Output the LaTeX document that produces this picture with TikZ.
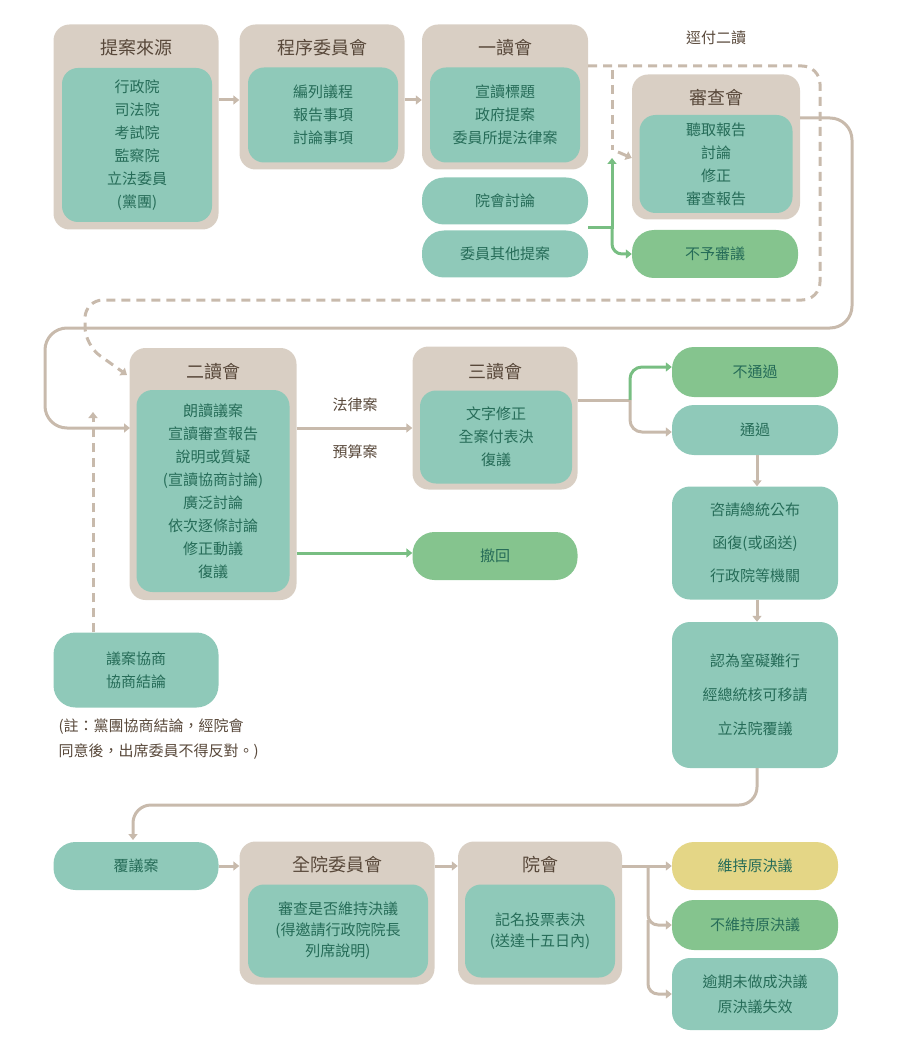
\documentclass[tikz,border=0pt]{standalone}
\usepackage{fontspec}
\setmainfont{Noto Sans CJK TC}
\usetikzlibrary{arrows.meta}
\definecolor{tanbox}{RGB}{217,207,196}
\definecolor{tanline}{RGB}{200,186,172}
\definecolor{tealbox}{RGB}{143,201,185}
\definecolor{greenbox}{RGB}{133,196,142}
\definecolor{yellowbox}{RGB}{228,214,134}
\definecolor{greenline}{RGB}{120,190,130}
\definecolor{tealtext}{RGB}{38,108,88}
\definecolor{titletext}{RGB}{88,72,58}
\tikzset{
  outer/.style={fill=tanbox, rounded corners=16pt, inner sep=0pt},
  inner/.style={fill=tealbox, rounded corners=16pt, text=tealtext, align=center, inner sep=0pt,
    font=\fontsize{15}{23}\selectfont},
  pill/.style={inner, rounded corners=22pt},
  title/.style={text=titletext, font=\fontsize{18}{22}\selectfont},
  flow/.style={draw=tanline, line width=3pt, -{Triangle[width=9pt,length=6pt]}},
  gflow/.style={draw=greenline, line width=3pt, -{Triangle[width=9pt,length=6pt]}},
  dflow/.style={flow, dash pattern=on 9pt off 6pt}
}
\begin{document}
\begin{tikzpicture}[x=1pt,y=-1pt]
\useasboundingbox (0,0) rectangle (908,1048);
% row 1
\node[outer, minimum width=165, minimum height=205] (src) at (136,127) {};
\node[title] (srcT) at (136,48) {提案來源};
\node[inner, minimum width=150, minimum height=154] (srcI) at (137,145) {行政院\\司法院\\考試院\\監察院\\立法委員\\(黨團)};
\node[outer, minimum width=165, minimum height=145] (proc) at (322,97) {};
\node[title] (procT) at (322,48) {程序委員會};
\node[inner, minimum width=150, minimum height=95] (procI) at (323,115) {編列議程\\報告事項\\討論事項};
\node[outer, minimum width=166, minimum height=145] (r1) at (505,97) {};
\node[title] (r1T) at (505,48) {一讀會};
\node[inner, minimum width=150, minimum height=95] (r1I) at (505,115) {宣讀標題\\政府提案\\委員所提法律案};
\node[pill, minimum width=166, minimum height=47] (plen) at (505,201) {院會討論};
\node[pill, minimum width=166, minimum height=47] (other) at (505,254) {委員其他提案};
\node[outer, minimum width=168, minimum height=145] (rev) at (716,147) {};
\node[title] (revT) at (716,98) {審查會};
\node[inner, minimum width=153, minimum height=98] (revI) at (716,164) {聽取報告\\討論\\修正\\審查報告};
\node[pill, fill=greenbox, minimum width=166, minimum height=48] (noRev) at (715,254) {不予審議};
\node[text=titletext, font=\fontsize{15}{18}\selectfont] (direct) at (716,38) {逕付二讀};
\draw[flow] (src.east |- 0,100) -- (proc.west |- 0,100);
\draw[flow] (proc.east |- 0,100) -- (r1.west |- 0,100);
% green branch
\coordinate (gj) at (612,228);
\draw[gflow] (588,228) -- (gj) -- (612,158);
\draw[gflow, rounded corners=10pt] (gj) -- (612,254) -- (noRev.west);
% dashed direct path
\draw[dflow, rounded corners=18pt] (r1.east |- 0,66) -- (820,66) -- (820,300) -- (85,300) -- (85,345) -- (127,375);
\draw[dflow, -] (612,70) -- (612,150);
\draw[flow] (618,152) -- (rev.west |- 0,158);
% solid return path
\draw[flow, rounded corners=22pt] (rev.east |- 0,118) -- (852,118) -- (852,328) -- (45,328) -- (45,428) -- (130,428);
% row 2
\node[outer, minimum width=167, minimum height=252] (r2) at (213,474) {};
\node[title] (r2T) at (213,372) {二讀會};
\node[inner, minimum width=153, minimum height=202] (r2I) at (213,491) {朗讀議案\\宣讀審查報告\\說明或質疑\\(宣讀協商討論)\\廣泛討論\\依次逐條討論\\修正動議\\復議};
\node[outer, minimum width=165, minimum height=143] (r3) at (495,418) {};
\node[title] (r3T) at (495,372) {三讀會};
\node[inner, minimum width=152, minimum height=93] (r3I) at (496,437) {文字修正\\全案付表決\\復議};
\node[pill, fill=greenbox, minimum width=165, minimum height=48] (wd) at (495,556) {撤回};
\node[text=titletext, font=\fontsize{15}{18}\selectfont] (law) at (355,405) {法律案};
\node[text=titletext, font=\fontsize{15}{18}\selectfont] (budget) at (355,452) {預算案};
\draw[flow] (r2.east |- 0,428) -- (r3.west |- 0,428);
\draw[gflow] (r2.east |- 0,553) -- (wd.west |- 0,553);
\node[pill, minimum width=165, minimum height=75] (nego) at (136,670) {議案協商\\協商結論};
\draw[dflow] (nego.north -| 93,0) -- (93,412);
\node[text=titletext, align=left, anchor=north west, font=\fontsize{15}{25}\selectfont] (note) at (55,715) {(註：黨團協商結論，經院會\\同意後，出席委員不得反對。)};
\node[pill, fill=greenbox, minimum width=166, minimum height=50] (fail) at (755,372) {不通過};
\node[pill, minimum width=166, minimum height=50] (pass) at (755,430) {通過};
\coordinate (r3j) at (630,400);
\draw[draw=tanline, line width=3pt] (r3.east |- 0,400) -- (r3j);
\draw[gflow, rounded corners=12pt] (r3j) -- (630,367) -- (fail.west |- 0,367);
\draw[flow, rounded corners=12pt] (r3j) -- (630,432) -- (pass.west |- 0,432);
\node[inner, rounded corners=18pt, minimum width=166, minimum height=113, font=\fontsize{15}{33}\selectfont] (prom) at (755,543) {咨請總統公布\\函復(或函送)\\行政院等機關};
\node[inner, rounded corners=18pt, minimum width=166, minimum height=146, font=\fontsize{15}{34}\selectfont] (veto) at (755,695) {認為窒礙難行\\經總統核可移請\\立法院覆議};
\draw[flow] (pass.south -| 757,0) -- (prom.north -| 757,0);
\draw[flow] (prom.south -| 757,0) -- (veto.north -| 757,0);
% row 3
\draw[flow, rounded corners=18pt] (veto.south -| 757,0) -- (757,805) -- (133,805) -- (133,840);
\node[pill, minimum width=165, minimum height=48] (recon) at (136,866) {覆議案};
\node[outer, minimum width=195, minimum height=143] (whole) at (337,913) {};
\node[title] (wholeT) at (337,865) {全院委員會};
\node[inner, minimum width=180, minimum height=93, font=\fontsize{15}{21}\selectfont] (wholeI) at (338,931) {審查是否維持決議\\(得邀請行政院院長\\列席說明)};
\node[outer, minimum width=164, minimum height=143] (ple2) at (540,913) {};
\node[title] (ple2T) at (540,865) {院會};
\node[inner, minimum width=150, minimum height=93, font=\fontsize{15}{21}\selectfont] (ple2I) at (540,931) {記名投票表決\\(送達十五日內)};
\node[pill, fill=yellowbox, minimum width=166, minimum height=48] (keep) at (755,866) {維持原決議};
\node[pill, fill=greenbox, minimum width=166, minimum height=50] (nokeep) at (755,925) {不維持原決議};
\node[inner, rounded corners=18pt, minimum width=166, minimum height=72, font=\fontsize{15}{25}\selectfont] (lapse) at (755,994) {逾期未做成決議\\原決議失效};
\draw[flow] (recon.east) -- (whole.west |- 0,866);
\draw[flow] (whole.east |- 0,866) -- (ple2.west |- 0,866);
\draw[flow] (ple2.east |- 0,866) -- (keep.west);
\draw[flow, rounded corners=10pt] (648,866) -- (648,925) -- (nokeep.west);
\draw[flow, rounded corners=10pt] (648,920) -- (648,994) -- (lapse.west);
\end{tikzpicture}
\end{document}
